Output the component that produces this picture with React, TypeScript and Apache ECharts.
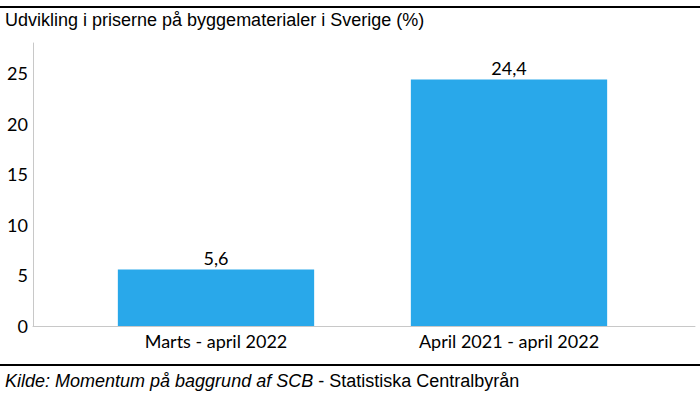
import React, { useEffect, useRef } from "react";
import * as echarts from "echarts";

const categories = ["Marts - april 2022", "April 2021 - april 2022"];
const values = [5.6, 24.4];
const titleText = "Udvikling i priserne på byggematerialer i Sverige (%)";
const sourceItalic = "Kilde: Momentum på baggrund af SCB";
const sourceRegular = " - Statistiska Centralbyrån";

export default function App() {
  const ref = useRef<HTMLDivElement>(null);
  useEffect(() => {
    document.body.style.margin = "0";
    const chart = echarts.init(ref.current!, null, { renderer: "svg" });
    const font = "Lato";
    chart.setOption({
      animation: false,
      backgroundColor: "#fff",
      title: {
        text: titleText,
        left: 5,
        top: 11,
        padding: 0,
        textStyle: { fontFamily: "Liberation Sans", fontSize: 18, fontWeight: "normal", color: "#000" },
      },
      grid: [
        { left: 69.5, right: 44.5, top: 43, bottom: 68 },
        { left: 33, right: 5, top: 43, bottom: 68 },
      ],
      xAxis: [
        {
          type: "category",
          gridIndex: 0,
          data: categories,
          axisLine: { show: false },
          axisTick: { show: false },
          axisLabel: { fontFamily: font, fontSize: 18, color: "#000", margin: 6 },
        },
        {
          type: "value",
          gridIndex: 1,
          axisLine: { show: true, lineStyle: { color: "#c8c8c8", width: 1 } },
          axisTick: { show: false },
          axisLabel: { show: false },
          splitLine: { show: false },
        },
      ],
      yAxis: [
        {
          type: "value",
          gridIndex: 0,
          min: 0,
          max: 28,
          interval: 5,
          offset: 36.5,
          axisLine: { show: true, lineStyle: { color: "#c8c8c8", width: 1 } },
          axisTick: { show: false },
          splitLine: { show: false },
          axisLabel: { fontFamily: font, fontSize: 18, color: "#000", margin: 5, showMaxLabel: false },
        },
        {
          type: "value",
          gridIndex: 1,
          show: false,
        },
      ],
      series: [
        {
          type: "bar",
          xAxisIndex: 0,
          yAxisIndex: 0,
          data: values,
          barWidth: "67%",
          itemStyle: { color: "#29A8EA" },
          label: {
            show: true,
            position: "top",
            distance: 2,
            fontFamily: font,
            fontSize: 18,
            color: "#000",
            formatter: (p: any) => String(p.value).replace(".", ","),
          },
        },
      ],
      graphic: [
        { type: "rect", shape: { x: 0, y: 6, width: 700, height: 2 }, style: { fill: "#000" } },
        { type: "rect", shape: { x: 0, y: 364, width: 700, height: 2 }, style: { fill: "#000" } },
        {
          type: "text",
          x: 5,
          y: 372,
          style: {
            text: "{i|" + sourceItalic + "}{n|" + sourceRegular + "}",
            rich: {
              i: { fontFamily: "Liberation Sans", fontStyle: "italic", fontSize: 18, fill: "#000" },
              n: { fontFamily: "Liberation Sans", fontSize: 18, fill: "#000" },
            },
          },
        },
      ],
    });
    return () => chart.dispose();
  }, []);
  return <div ref={ref} style={{ width: 700, height: 394 }} />;
}
